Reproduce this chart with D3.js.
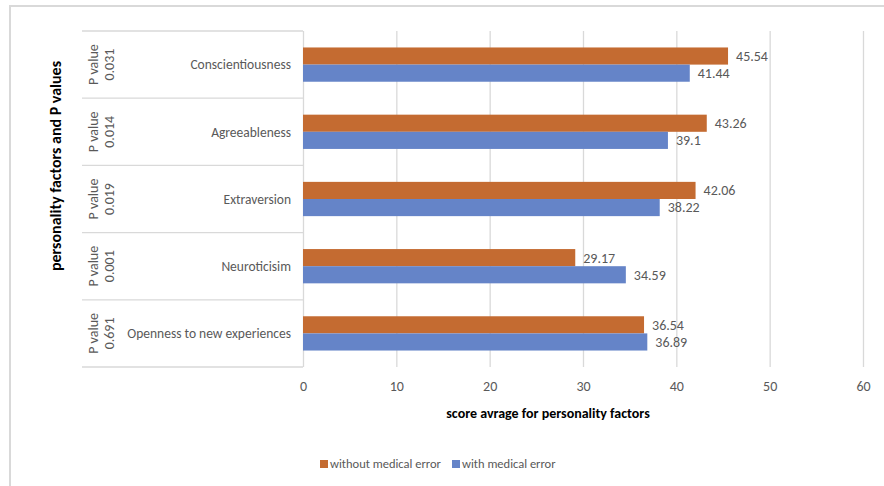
<!DOCTYPE html>
<html><head><meta charset="utf-8">
<script src="https://cdn.jsdelivr.net/npm/d3@7"></script>
<style>
html,body{margin:0;padding:0;background:#fff;}
text{font-family:Carlito,Lato,"Open Sans",sans-serif;}
</style></head>
<body>
<svg id="chart" width="884" height="486"></svg>
<script>
const categories = ["Conscientiousness","Agreeableness","Extraversion","Neuroticisim","Openness to new experiences"];
const pValues = ["0.031","0.014","0.019","0.001","0.691"];
const withoutError = [45.54,43.26,42.06,29.17,36.54];
const withError = [41.44,39.1,38.22,34.59,36.89];
const seriesNames = ["without medical error","with medical error"];
const xTicks = [0,10,20,30,40,50,60];

const colors = ["#C46B31","#6584C8"];
const textColor = "#595959";
const gridColor = "#d9d9d9";

const svg = d3.select("#chart");
const m = {left:303, right:863, top:31, bottom:367};
const tableLeft = 82;

// outer border
svg.append("path").attr("d",`M10,490 L10,6 L890,6`).attr("fill","none")
  .attr("stroke","#d9d9d9").attr("stroke-width",2);

const x = d3.scaleLinear().domain([0,60]).range([m.left,m.right]);
const y = d3.scaleBand().domain(categories).range([m.top,m.bottom]).paddingInner(0.49).paddingOuter(0.245);
const band = d3.scaleBand().domain(categories).range([m.top,m.bottom]);
const sub = d3.scaleBand().domain([0,1]).range([0,y.bandwidth()]);

// grid
const xAxis = d3.axisBottom(x).tickValues(xTicks).tickSize(-(m.bottom-m.top)).tickPadding(14);
const gx = svg.append("g").attr("transform",`translate(0,${m.bottom})`).call(xAxis);
gx.select(".domain").remove();
gx.selectAll(".tick line").attr("stroke",gridColor).attr("stroke-width",1.3);
gx.selectAll(".tick text").attr("fill",textColor).attr("font-size",14);

// table lines
const rowEdges = categories.map(c=>band(c)).concat([m.bottom]);
svg.selectAll(".rowline").data(rowEdges).enter().append("line")
  .attr("x1",tableLeft).attr("x2",m.left).attr("y1",d=>d).attr("y2",d=>d)
  .attr("stroke",gridColor).attr("stroke-width",1.3);

// bars
const data = categories.map((c,i)=>({c, vals:[withoutError[i],withError[i]]}));
const g = svg.append("g");
data.forEach(d=>{
  d.vals.forEach((v,j)=>{
    g.append("rect").attr("x",x(0)).attr("y",y(d.c)+sub(j))
      .attr("width",x(v)-x(0)).attr("height",sub.bandwidth())
      .attr("fill",colors[j]);
    g.append("text").attr("x",x(v)+8).attr("y",y(d.c)+sub(j)+sub.bandwidth()/2)
      .attr("dy","0.35em").attr("fill",textColor).attr("font-size",14).text(v);
  });
  // category label
  svg.append("text").attr("x",m.left-12).attr("y",band(d.c)+band.bandwidth()/2)
    .attr("dy","0.35em").attr("text-anchor","end").attr("fill",textColor)
    .attr("font-size",13.5).text(d.c);
});

// p values
categories.forEach((c,i)=>{
  const cy = band(c)+band.bandwidth()/2;
  const t = svg.append("text").attr("transform",`translate(100,${cy}) rotate(-90)`)
    .attr("text-anchor","middle").attr("fill",textColor).attr("font-size",14);
  t.append("tspan").attr("x",0).attr("y",-2).text("P value");
  t.append("tspan").attr("x",0).attr("y",14).text(pValues[i]);
});

// axis titles
svg.append("text").attr("transform","translate(61,166) rotate(-90)").attr("text-anchor","middle")
  .attr("font-weight","bold").attr("font-size",16).attr("fill","#000").text("personality factors and P values");
svg.append("text").attr("x",548).attr("y",418).attr("text-anchor","middle")
  .attr("font-weight","bold").attr("font-size",14).attr("fill","#000").text("score avrage for personality factors");

// legend
const legendX = [320,452];
seriesNames.forEach((n,j)=>{
  svg.append("rect").attr("x",legendX[j]).attr("y",460).attr("width",8).attr("height",8).attr("fill",colors[j]);
  svg.append("text").attr("x",legendX[j]+10).attr("y",464).attr("dy","0.35em")
    .attr("fill",textColor).attr("font-size",12.5).text(n);
});
</script>
</body></html>
